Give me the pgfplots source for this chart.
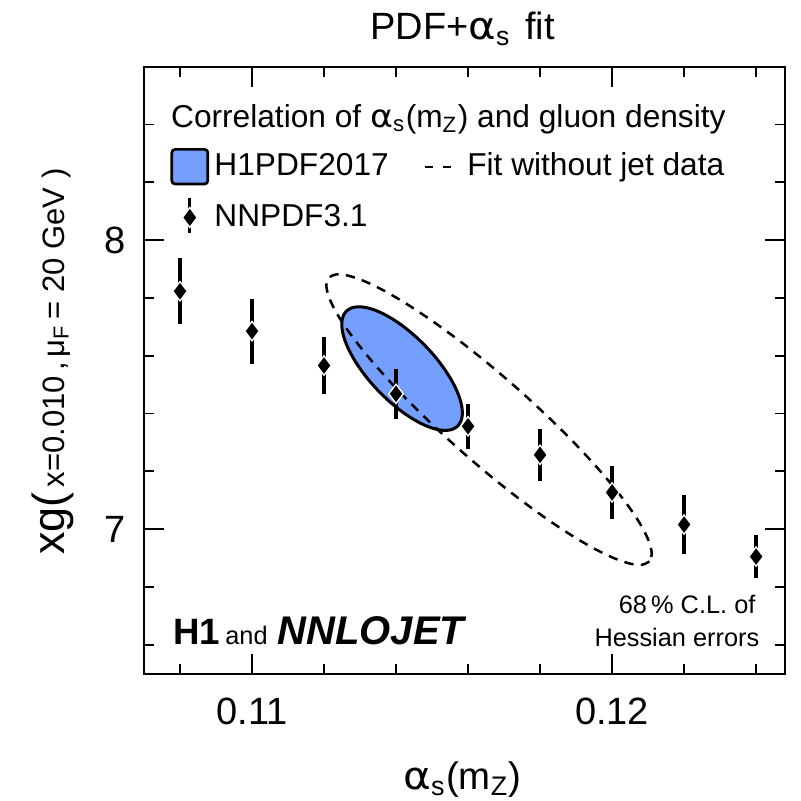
\documentclass[border=0pt]{standalone}
\usepackage{fontspec}
\setmainfont{Liberation Sans}
\newfontfamily\grk{DejaVu Sans}
\usepackage{graphicx}
\usepackage{pgfplots}
\usepackage{pgfplotstable}
\pgfplotsset{compat=1.18}
\definecolor{h1blue}{RGB}{116,159,255}
\newcommand{\al}{{\grk\scalebox{1.1}[1]{α}}}

\pgfplotstableread{
x      y      e
0.108  7.823  0.114
0.110  7.685  0.112
0.112  7.566  0.097
0.114  7.468  0.087
0.116  7.356  0.078
0.118  7.257  0.090
0.120  7.127  0.093
0.122  7.016  0.103
0.124  6.905  0.075
}\nnpdf

\begin{document}
\begin{tikzpicture}
\begin{axis}[
  name=ax,
  scale only axis,
  width=192.24pt, height=182.07pt,
  xmin=0.107, xmax=0.1248,
  ymin=6.5, ymax=8.6,
  clip=false,
  axis line style={line width=0.6pt},
  every tick/.style={black, line width=0.5pt},
  major tick length=6pt, minor tick length=3pt,
  tick align=inside,
  xtick={0.11,0.12}, xticklabels={0.11,0.12},
  minor xtick={0.108,0.112,0.114,0.116,0.118,0.122,0.124},
  ytick={7,8}, yticklabels={7,8},
  minor ytick={6.6,6.8,7.2,7.4,7.6,7.8,8.2,8.4},
  scaled x ticks=false,
  /pgf/number format/assume math mode=true,
  ticklabel style={font=\fontsize{11.4}{12}\selectfont},
  xticklabel style={inner sep=0pt, yshift=-7.2pt},
  yticklabel style={inner sep=0pt, xshift=-5.4pt},
  xlabel={\al\textsubscript{s}(m\textsubscript{Z})},
  xlabel style={at={(axis description cs:0.497,-0.191)}, anchor=base, inner sep=0pt, font=\fontsize{11.5}{12}\selectfont},
  ylabel={{\fontsize{13.5}{14}\selectfont xg(}\,x=0.010\,,\,μ\textsubscript{F}\,= 20 GeV )},
  ylabel style={at={(axis description cs:-0.143,0.514)}, anchor=center, inner sep=0pt, font=\fontsize{9.3}{10}\selectfont},
  legend columns=2,
  legend cell align=left,
  legend style={draw=none, fill=none, inner sep=0pt, outer sep=0pt,
    at={(axis description cs:0.0413,0.867)}, anchor=north west,
    font=\fontsize{9.5}{11}\selectfont, row sep=3pt,
    nodes={inner sep=1.6pt},
    /tikz/every even column/.append style={column sep=9pt}},
]
% H1PDF2017 ellipse
\addplot[forget plot, smooth, draw=black, line width=0.9pt, fill=h1blue] coordinates {
(0.115711,7.3563) (0.115575,7.3457) (0.115396,7.3416) (0.115179,7.3439) (0.114932,7.3527) (0.114662,7.3675) (0.114376,7.3882) (0.114085,7.4139) (0.113796,7.4439) (0.113518,7.4773) (0.113259,7.5130) (0.113029,7.5501) (0.112833,7.5873) (0.112677,7.6235) (0.112567,7.6577) (0.112505,7.6888) (0.112494,7.7158) (0.112534,7.7379) (0.112623,7.7545) (0.112759,7.7651) (0.112938,7.7692) (0.113155,7.7669) (0.113402,7.7581) (0.113672,7.7433) (0.113958,7.7226) (0.114249,7.6969) (0.114538,7.6669) (0.114816,7.6335) (0.115075,7.5978) (0.115305,7.5607) (0.115501,7.5235) (0.115657,7.4873) (0.115767,7.4531) (0.115829,7.4220) (0.115840,7.3950) (0.115800,7.3729) (0.115711,7.3563)
};
% Fit without jet data
\addplot[forget plot, smooth, draw=black, line width=0.75pt, dash pattern=on 2.8pt off 2.2pt] coordinates {
(0.121036,6.8882) (0.120834,6.8768) (0.120502,6.8806) (0.120052,6.8996) (0.119497,6.9331) (0.118853,6.9801) (0.118140,7.0393) (0.117379,7.1088) (0.116595,7.1865) (0.115810,7.2700) (0.115049,7.3569) (0.114334,7.4444) (0.113687,7.5300) (0.113129,7.6109) (0.112675,7.6848) (0.112340,7.7494) (0.112135,7.8027) (0.112064,7.8432) (0.112130,7.8696) (0.112332,7.8810) (0.112664,7.8772) (0.113114,7.8582) (0.113669,7.8247) (0.114313,7.7777) (0.115026,7.7185) (0.115787,7.6490) (0.116571,7.5713) (0.117356,7.4878) (0.118117,7.4009) (0.118832,7.3134) (0.119479,7.2278) (0.120037,7.1469) (0.120491,7.0730) (0.120826,7.0084) (0.121031,6.9551) (0.121102,6.9146) (0.121036,6.8882)
};
% NNPDF3.1
\addplot[forget plot, only marks, mark=diamond*, mark size=2.9pt,
  mark options={fill=black, draw=white, line width=0.4pt},
  error bars/.cd, y dir=both, y explicit, error mark=none,
  error bar style={line width=1pt, black}]
  table[x=x, y=y, y error=e] {\nnpdf};

\addlegendimage{legend image code/.code={\draw[fill=h1blue, line width=0.8pt, rounded corners=1pt] (0pt,-5.2pt) rectangle (10.8pt,5.2pt);}}
\addlegendentry{H1PDF2017}
\addlegendimage{legend image code/.code={\draw[line width=0.7pt, dash pattern=on 2.4pt off 2.8pt] (0pt,0pt) -- (7.6pt,0pt); \path (10.8pt,0pt);}}
\addlegendentry{Fit without jet data}
\addlegendimage{legend image code/.code={\draw[line width=0.9pt] (5.4pt,-4.5pt) -- (5.4pt,6pt); \path[fill=black, draw=white, line width=0.4pt] (5.4pt,-3pt) -- (7.6pt,0pt) -- (5.4pt,3pt) -- (3.2pt,0pt) -- cycle; \path (0pt,0pt) (10.8pt,0pt);}}
\addlegendentry{NNPDF3.1}

\node[anchor=base, inner sep=0pt, font=\fontsize{11.4}{12}\selectfont] at (axis description cs:0.497,1.044) {PDF+\al\textsubscript{s}\hspace{1pt} fit};
\node[anchor=base west, inner sep=0pt, font=\fontsize{9.5}{11}\selectfont] at (axis description cs:0.0413,0.899) {Correlation of \al\textsubscript{s}(m\textsubscript{Z}) and gluon density};
\node[anchor=base west, inner sep=0pt] at (axis description cs:0.0444,0.048) {{\fontsize{11}{12}\selectfont\bfseries H1}\hspace{1.6pt}{\fontsize{7.6}{9}\selectfont and}\hspace{3pt}{\fontsize{12}{13}\selectfont\bfseries\itshape NNLOJET}};
\node[anchor=base east, inner sep=0pt, font=\fontsize{7.6}{9}\selectfont] at (axis description cs:0.955,0.099) {68\,\% C.L. of};
\node[anchor=base east, inner sep=0pt, font=\fontsize{7.6}{9}\selectfont] at (axis description cs:0.961,0.045) {Hessian errors};
\end{axis}
\path ([shift={(-43.2pt,-38.2pt)}]ax.south west) rectangle ([shift={(4.56pt,20pt)}]ax.north east);
\end{tikzpicture}
\end{document}
